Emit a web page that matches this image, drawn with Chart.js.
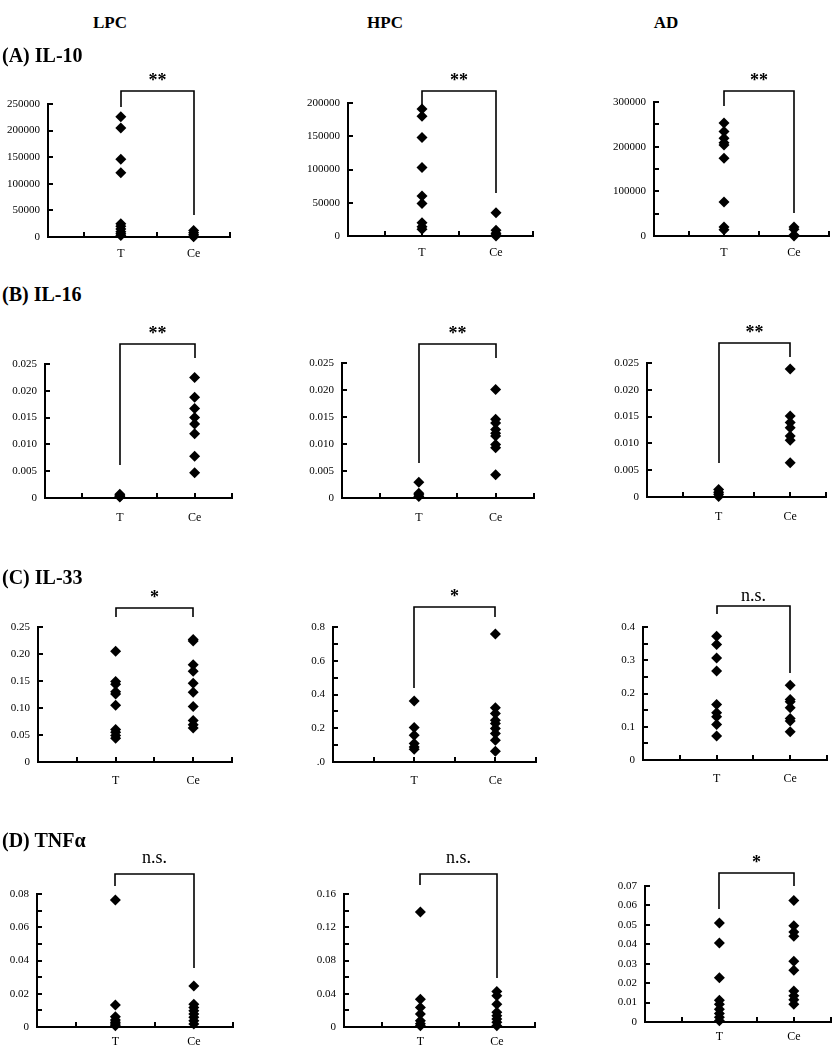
<!DOCTYPE html>
<html>
<head>
<meta charset="utf-8">
<script src="https://cdn.jsdelivr.net/npm/chart.js@4.4.1/dist/chart.umd.min.js"></script>
<style>
  body { margin: 0; background: #fff; }
  #page { position: relative; width: 839px; height: 1050px; font-family: 'Liberation Serif', 'Times New Roman', serif; color: #000; }
  #page canvas { position: absolute; }
  .head { position: absolute; width: 100px; text-align: center; font-weight: bold; font-size: 17px; line-height: 17px; }
  .rowlab { position: absolute; left: 2px; font-weight: bold; font-size: 20px; line-height: 20px; z-index: 2; }
</style>
</head>
<body>
<div id="page">
  <div class="head" style="left:60px;top:14px">LPC</div>
  <div class="head" style="left:335px;top:14px">HPC</div>
  <div class="head" style="left:616px;top:14px">AD</div>
  <div class="rowlab" style="top:45px">(A) IL-10</div>
  <div class="rowlab" style="top:284px">(B) IL-16</div>
  <div class="rowlab" style="top:567px">(C) IL-33</div>
  <div class="rowlab" style="top:830px">(D) TNFα</div>
</div>
<script>
  var serif = "'Liberation Serif', 'Times New Roman', serif";

  // x axis runs 0..5, the two groups sit at 2 and 4
  var xTickLabels = ['', '', 'T', '', 'Ce', ''];
  var groups = ['T', 'Ce'];

  // (A) IL-10
  var il10LpcT = [226000, 205000, 146000, 121000, 25000, 20000, 15000, 10000, 6000, 3000];
  var il10LpcCe = [12000, 8000, 4000, 1500, 500];
  var il10HpcT = [191000, 180000, 148000, 103000, 60000, 49000, 20000, 14000, 10000];
  var il10HpcCe = [35000, 8500, 4000, 1500, 0];
  var il10AdT = [253000, 234000, 219000, 209000, 204000, 174000, 76000, 20000, 14000];
  var il10AdCe = [20000, 15000, 2000, 0];

  // (B) IL-16
  var il16LpcT = [0.0007, 0.0005, 0.0003, 0.0002];
  var il16LpcCe = [0.0225, 0.0188, 0.0167, 0.0150, 0.0138, 0.0120, 0.0078, 0.0047];
  var il16HpcT = [0.0029, 0.0009, 0.0006, 0.0003];
  var il16HpcCe = [0.0201, 0.0146, 0.0139, 0.0127, 0.0120, 0.0115, 0.0099, 0.0093, 0.0043];
  var il16AdT = [0.0014, 0.0009, 0.0005, 0.0001];
  var il16AdCe = [0.0239, 0.0151, 0.0139, 0.0129, 0.0114, 0.0106, 0.0064];

  // (C) IL-33
  var il33LpcT = [0.205, 0.149, 0.144, 0.130, 0.126, 0.105, 0.060, 0.055, 0.049, 0.044];
  var il33LpcCe = [0.227, 0.224, 0.180, 0.168, 0.146, 0.129, 0.103, 0.077, 0.069, 0.063];
  var il33HpcT = [0.361, 0.204, 0.159, 0.109, 0.089, 0.075];
  var il33HpcCe = [0.758, 0.322, 0.288, 0.248, 0.228, 0.198, 0.169, 0.129, 0.064];
  var il33AdT = [0.372, 0.347, 0.307, 0.268, 0.167, 0.142, 0.130, 0.107, 0.072];
  var il33AdCe = [0.225, 0.182, 0.175, 0.157, 0.125, 0.117, 0.085];

  // (D) TNFa
  var tnfLpcT = [0.0764, 0.0133, 0.0062, 0.0042, 0.0028, 0.0018, 0.0008];
  var tnfLpcCe = [0.0247, 0.0137, 0.0117, 0.0098, 0.0078, 0.0058, 0.0038, 0.0018];
  var tnfHpcT = [0.1384, 0.0335, 0.0235, 0.0156, 0.0076, 0.0040, 0.0016];
  var tnfHpcCe = [0.0427, 0.0375, 0.0275, 0.0176, 0.0136, 0.0096, 0.0056, 0.0016];
  var tnfAdT = [0.0509, 0.0407, 0.0228, 0.0112, 0.0092, 0.0066, 0.0044, 0.0024, 0.0007];
  var tnfAdCe = [0.0625, 0.0496, 0.0463, 0.0441, 0.0313, 0.0267, 0.0160, 0.0135, 0.0114, 0.0092];

  // y ticks and their printed labels
  var il10LpcTicks = [0, 50000, 100000, 150000, 200000, 250000];
  var il10LpcLabels = ['0', '50000', '100000', '150000', '200000', '250000'];
  var il10HpcTicks = [0, 50000, 100000, 150000, 200000];
  var il10HpcLabels = ['0', '50000', '100000', '150000', '200000'];
  var il10AdTicks = [0, 100000, 200000, 300000];
  var il10AdLabels = ['0', '100000', '200000', '300000'];
  var il16Ticks = [0, 0.005, 0.010, 0.015, 0.020, 0.025];
  var il16Labels = ['0', '0.005', '0.010', '0.015', '0.020', '0.025'];
  var il33LpcTicks = [0, 0.05, 0.10, 0.15, 0.20, 0.25];
  var il33LpcLabels = ['0', '0.05', '0.10', '0.15', '0.20', '0.25'];
  var il33HpcTicks = [0, 0.2, 0.4, 0.6, 0.8];
  var il33HpcLabels = ['.0', '0.2', '0.4', '0.6', '0.8'];
  var il33AdTicks = [0, 0.1, 0.2, 0.3, 0.4];
  var il33AdLabels = ['0', '0.1', '0.2', '0.3', '0.4'];
  var tnfLpcTicks = [0, 0.02, 0.04, 0.06, 0.08];
  var tnfLpcLabels = ['0', '0.02', '0.04', '0.06', '0.08'];
  var tnfHpcTicks = [0, 0.04, 0.08, 0.12, 0.16];
  var tnfHpcLabels = ['0', '0.04', '0.08', '0.12', '0.16'];
  var tnfAdTicks = [0, 0.01, 0.02, 0.03, 0.04, 0.05, 0.06, 0.07];
  var tnfAdLabels = ['0', '0.01', '0.02', '0.03', '0.04', '0.05', '0.06', '0.07'];

  // page layout
  var colLeft = [0, 280, 560];
  var rowTop = [62, 308, 580, 845];
  var rowHeight = [200, 222, 210, 205];
  var rowLabelPad = [10, 13, 12, 8];

  // box: [axis x, axis end x, top tick y, zero y] in page pixels
  // bracket: values in data units for the bar and the two legs
  var panels = [
    { col: 0, row: 0, t: il10LpcT, ce: il10LpcCe, ticks: il10LpcTicks, labels: il10LpcLabels, minor: 50000, box: [48, 230, 104, 237],
      bracket: { top: 274400, left: 244400, right: 41360, text: '**', gap: 5 } },
    { col: 1, row: 0, t: il10HpcT, ce: il10HpcCe, ticks: il10HpcTicks, labels: il10HpcLabels, minor: 50000, box: [348, 533, 103, 236],
      bracket: { top: 218000, left: 194000, right: 64700, text: '**', gap: 5 } },
    { col: 2, row: 0, t: il10AdT, ce: il10AdCe, ticks: il10AdTicks, labels: il10AdLabels, minor: 50000, box: [654, 835, 102, 236],
      bracket: { top: 324600, left: 291000, right: 51500, text: '**', gap: 5 } },
    { col: 0, row: 1, t: il16LpcT, ce: il16LpcCe, ticks: il16Ticks, labels: il16Labels, minor: 0.005, box: [45, 232, 364, 498],
      bracket: { top: 0.02873, left: 0.00616, right: 0.0261, text: '**', gap: 5 } },
    { col: 1, row: 1, t: il16HpcT, ce: il16HpcCe, ticks: il16Ticks, labels: il16Labels, minor: 0.005, box: [342, 534, 363, 498],
      bracket: { top: 0.02852, left: 0.00648, right: 0.02593, text: '**', gap: 5 } },
    { col: 2, row: 1, t: il16AdT, ce: il16AdCe, ticks: il16Ticks, labels: il16Labels, minor: 0.005, box: [647, 836, 363, 497],
      bracket: { top: 0.02873, left: 0.00634, right: 0.02612, text: '**', gap: 5 } },
    { col: 0, row: 2, t: il33LpcT, ce: il33LpcCe, ticks: il33LpcTicks, labels: il33LpcLabels, minor: 0.05, box: [38, 232, 627, 762],
      bracket: { top: 0.2852, left: 0.2685, right: 0.2685, text: '*', gap: 5 } },
    { col: 1, row: 2, t: il33HpcT, ce: il33HpcCe, ticks: il33HpcTicks, labels: il33HpcLabels, minor: 0.1, box: [333, 536, 627, 762],
      bracket: { top: 0.9185, left: 0.4385, right: 0.8593, text: '*', gap: 5 } },
    { col: 2, row: 2, t: il33AdT, ce: il33AdCe, ticks: il33AdTicks, labels: il33AdLabels, minor: 0.05, box: [643, 837, 627, 760],
      bracket: { top: 0.4632, left: 0.4391, right: 0.2617, text: 'n.s.', gap: 5 } },
    { col: 0, row: 3, t: tnfLpcT, ce: tnfLpcCe, ticks: tnfLpcTicks, labels: tnfLpcLabels, minor: 0.01, box: [37, 233, 894, 1027],
      bracket: { top: 0.092, left: 0.0848, right: 0.0355, text: 'n.s.', gap: 11 } },
    { col: 1, row: 3, t: tnfHpcT, ce: tnfHpcCe, ticks: tnfHpcTicks, labels: tnfHpcLabels, minor: 0.02, box: [344, 535, 894, 1027],
      bracket: { top: 0.184, left: 0.1708, right: 0.059, text: 'n.s.', gap: 11 } },
    { col: 2, row: 3, t: tnfAdT, ce: tnfAdCe, ticks: tnfAdTicks, labels: tnfAdLabels, minor: 0.01, box: [645, 836, 886, 1022],
      bracket: { top: 0.0767, left: 0.0582, right: 0.07, text: '*', gap: 5 } }
  ];

  // short tick marks pointing into the plot, like the original
  var innerTicks = {
    id: 'innerTicks',
    afterDraw: function (chart) {
      var ctx = chart.ctx;
      var xs = chart.scales.x, ys = chart.scales.y, area = chart.chartArea;
      var minor = chart.options.plugins.innerTicks.minor;
      ctx.save();
      ctx.strokeStyle = '#000';
      ctx.lineWidth = 2;
      ctx.beginPath();
      for (var i = 1; i < xTickLabels.length; i++) {
        var px = Math.round(xs.getPixelForValue(i));
        ctx.moveTo(px, area.bottom);
        ctx.lineTo(px, area.bottom - 5);
      }
      for (var k = 1; k * minor <= ys.max * 1.0001; k++) {
        var py = Math.round(ys.getPixelForValue(k * minor));
        ctx.moveTo(area.left, py);
        ctx.lineTo(area.left + 5, py);
      }
      ctx.stroke();
      ctx.restore();
    }
  };

  // significance bracket between T and Ce
  var bracket = {
    id: 'bracket',
    afterDraw: function (chart) {
      var b = chart.options.plugins.bracket;
      if (!b) return;
      var ctx = chart.ctx;
      var xs = chart.scales.x, ys = chart.scales.y;
      var xl = Math.round(xs.getPixelForValue(xTickLabels.indexOf('T')));
      var xr = Math.round(xs.getPixelForValue(xTickLabels.indexOf('Ce')));
      var yt = Math.round(ys.getPixelForValue(b.top));
      ctx.save();
      ctx.strokeStyle = '#000';
      ctx.lineWidth = 1.6;
      ctx.beginPath();
      ctx.moveTo(xl, ys.getPixelForValue(b.left));
      ctx.lineTo(xl, yt);
      ctx.lineTo(xr, yt);
      ctx.lineTo(xr, ys.getPixelForValue(b.right));
      ctx.stroke();
      ctx.fillStyle = '#000';
      ctx.textAlign = 'center';
      ctx.textBaseline = 'alphabetic';
      ctx.font = b.text === 'n.s.' ? '18px ' + serif : 'bold 18px ' + serif;
      ctx.fillText(b.text, (xl + xr) / 2, yt - b.gap);
      ctx.restore();
    }
  };

  var page = document.getElementById('page');

  panels.forEach(function (p) {
    var x0 = colLeft[p.col], y0 = rowTop[p.row], h = rowHeight[p.row];
    var axisX = p.box[0], endX = p.box[1], topY = p.box[2], zeroY = p.box[3];

    var canvas = document.createElement('canvas');
    canvas.width = 279;
    canvas.height = h;
    canvas.style.left = x0 + 'px';
    canvas.style.top = y0 + 'px';
    page.insertBefore(canvas, page.firstChild);

    var points = [];
    groups.forEach(function (g) {
      var vals = g === 'T' ? p.t : p.ce;
      vals.forEach(function (v) {
        points.push({ x: xTickLabels.indexOf(g), y: v });
      });
    });

    new Chart(canvas, {
      type: 'scatter',
      data: {
        datasets: [{
          data: points,
          pointStyle: 'rectRot',
          pointRadius: 5.5,
          backgroundColor: '#000',
          borderColor: '#000',
          borderWidth: 0,
          clip: false
        }]
      },
      options: {
        responsive: false,
        animation: false,
        events: [],
        layout: { padding: { left: 0, right: x0 + 279 - endX, top: topY - y0, bottom: 0 } },
        plugins: {
          legend: { display: false },
          tooltip: { enabled: false },
          innerTicks: { minor: p.minor },
          bracket: p.bracket
        },
        scales: {
          x: {
            type: 'linear',
            min: 0,
            max: xTickLabels.length - 1,
            grid: { display: false, drawTicks: false },
            border: { color: '#000', width: 2 },
            afterBuildTicks: function (s) {
              s.ticks = xTickLabels.map(function (l, i) { return { value: i }; });
            },
            ticks: {
              padding: rowLabelPad[p.row],
              autoSkip: false,
              maxRotation: 0,
              color: '#000',
              font: { family: serif, size: 12 },
              callback: function (v, i) { return xTickLabels[i]; }
            },
            afterFit: function (s) { s.height = y0 + h - zeroY; }
          },
          y: {
            type: 'linear',
            min: 0,
            max: p.ticks[p.ticks.length - 1],
            grid: { display: false, drawTicks: false },
            border: { color: '#000', width: 2 },
            afterBuildTicks: function (s) {
              s.ticks = p.ticks.map(function (v) { return { value: v }; });
            },
            ticks: {
              padding: 8,
              color: '#000',
              font: { family: serif, size: 11 },
              callback: function (v, i) { return p.labels[i]; }
            },
            afterFit: function (s) { s.width = axisX - x0; }
          }
        }
      },
      plugins: [innerTicks, bracket]
    });
  });
</script>
</body>
</html>
